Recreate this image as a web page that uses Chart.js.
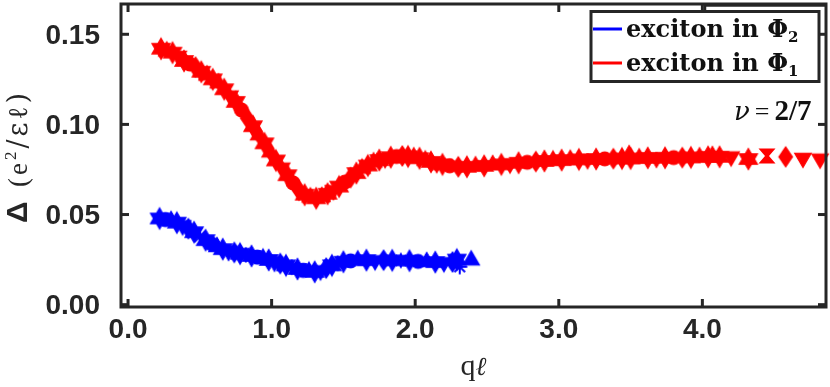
<!DOCTYPE html>
<html><head><meta charset="utf-8">
<script src="https://cdn.jsdelivr.net/npm/chart.js@4/dist/chart.umd.min.js"></script>
<style>html,body{margin:0;padding:0;background:#fff}#wrap{width:830px;height:387px}</style>
</head><body><div id="wrap"><canvas id="c" width="830" height="387"></canvas></div>
<script>
// ---- data ----
const xTicks = [0, 1, 2, 3, 4];
const yTicks = [0, 0.05, 0.10, 0.15];
const seriesNames = ['exciton in Φ', 'exciton in Φ']; // subscripts 2 and 1 drawn below
const seriesSubs = ['2', '1'];
const nuLabel = ['ν', '=', '2/7'];

const redQ = [0.23,0.27,0.31,0.35,0.39,0.43,0.47,0.51,0.55,0.59,0.63,0.67,0.71,0.75,0.79,0.83,0.87,0.91,0.95,0.99,
  1.03,1.07,1.11,1.15,1.19,1.23,1.27,1.31,1.35,1.39,1.43,1.47,1.51,1.55,1.59,1.63,1.67,1.71,1.75,1.79,
  1.83,1.87,1.91,1.95,1.99,2.03,2.07,2.11,2.15,2.19,2.24,2.30,2.36,2.42,2.48,2.54,2.60,2.66,2.72,2.78,
  2.84,2.90,2.96,3.02,3.08,3.14,3.20,3.26,3.32,3.38,3.44,3.49,3.50,3.56,3.62,3.68,3.74,3.80,3.86,3.92,
  3.98,4.04,4.07,4.12,4.20,4.32,4.45,4.58,4.70,4.82];
const redDelta = [0.1420,0.1405,0.1398,0.1380,0.1352,0.1335,0.1318,0.1292,0.1272,0.1250,0.1228,0.1195,0.1160,0.1125,0.1080,0.1035,0.0990,0.0940,0.0895,0.0845,
  0.0800,0.0760,0.0718,0.0675,0.0635,0.0610,0.0595,0.0590,0.0598,0.0615,0.0635,0.0655,0.0680,0.0705,0.0730,0.0755,0.0772,0.0790,0.0802,0.0812,
  0.0818,0.0822,0.0825,0.0822,0.0818,0.0812,0.0800,0.0792,0.0785,0.0778,0.0770,0.0765,0.0765,0.0768,0.0770,0.0775,0.0778,0.0783,0.0787,0.0790,
  0.0794,0.0797,0.0800,0.0802,0.0804,0.0806,0.0807,0.0808,0.0809,0.0810,0.0811,0.0830,0.0811,0.0812,0.0814,0.0814,0.0815,0.0816,0.0816,0.0817,
  0.0818,0.0820,0.0825,0.0820,0.0822,0.0808,0.0825,0.0820,0.0814,0.0810];

const blueQ = [0.22,0.26,0.30,0.34,0.38,0.42,0.46,0.50,0.54,0.58,0.62,0.66,0.70,0.74,0.78,0.82,0.86,0.90,0.94,0.98,
  1.02,1.06,1.10,1.14,1.18,1.22,1.26,1.30,1.34,1.38,1.42,1.46,1.50,1.55,1.60,1.66,1.72,1.78,1.84,1.90,
  1.96,2.02,2.08,2.14,2.20,2.26,2.29,2.31,2.39];
const blueDelta = [0.0478,0.0472,0.0465,0.0455,0.0440,0.0422,0.0402,0.0378,0.0358,0.0338,0.0320,0.0308,0.0298,0.0290,0.0283,0.0276,0.0270,0.0264,0.0256,0.0248,
  0.0238,0.0228,0.0218,0.0208,0.0198,0.0190,0.0183,0.0182,0.0190,0.0203,0.0218,0.0230,0.0238,0.0243,0.0246,0.0247,0.0246,0.0247,0.0246,0.0245,
  0.0244,0.0240,0.0237,0.0236,0.0235,0.0237,0.0250,0.0210,0.0246];

// ---- styles ----
const RED = '#ff0000', BLUE = '#0000ff', AXIS = '#262626';
const AREA = {left: 121, top: 2, right: 828, bottom: 307};
const redCycle = ['hexagram','triangle','hexagram','triangleDown','hexagram','circle','diamond','hexagram','triangle'];
const redEnd = ['hexagram','hourglass','diamond','triangleDown','triangleDown'];
const blueCycle = ['hexagram','circle','triangle','hexagram','triangleDown','diamond','hexagram','asterisk'];
const blueEnd = ['triangle'];

function makeMarker(shape, color) {
  const c = document.createElement('canvas'); c.width = c.height = 28;
  const g = c.getContext('2d'); g.fillStyle = color; g.strokeStyle = color; g.lineWidth = 1.2;
  const cx = 14, cy = 14;
  const tri = (r, down) => { g.beginPath();
    for (let i = 0; i < 3; i++) { const a = (down ? Math.PI/2 : -Math.PI/2) + i*2*Math.PI/3;
      const px = cx + r*Math.cos(a), py = cy + r*Math.sin(a); i ? g.lineTo(px,py) : g.moveTo(px,py); }
    g.closePath(); g.fill(); g.stroke(); };
  switch (shape) {
    case 'hexagram': tri(10.5, false); tri(10.5, true); break;
    case 'triangle': tri(9.5, false); break;
    case 'triangleDown': tri(9.5, true); break;
    case 'circle': g.beginPath(); g.arc(cx, cy, 7.5, 0, 2*Math.PI); g.fill(); break;
    case 'diamond': g.beginPath(); g.moveTo(cx, cy-11); g.lineTo(cx+7.5, cy); g.lineTo(cx, cy+11); g.lineTo(cx-7.5, cy); g.closePath(); g.fill(); break;
    case 'hourglass': g.beginPath(); g.moveTo(cx-8.5, cy-7.5); g.lineTo(cx+8.5, cy-7.5); g.lineTo(cx+2, cy); g.lineTo(cx+8.5, cy+7.5);
      g.lineTo(cx-8.5, cy+7.5); g.lineTo(cx-2, cy); g.closePath(); g.fill(); break;
    case 'asterisk': g.lineWidth = 2; g.beginPath();
      for (let i = 0; i < 4; i++) { const a = i*Math.PI/4; g.moveTo(cx-7.5*Math.cos(a), cy-7.5*Math.sin(a)); g.lineTo(cx+7.5*Math.cos(a), cy+7.5*Math.sin(a)); }
      g.stroke(); break;
  }
  return c;
}
const markerCache = {};
function marker(shape, color) { const k = shape + color; return markerCache[k] || (markerCache[k] = makeMarker(shape, color)); }
function styleFor(i, n, cycle, end, color) {
  const fromEnd = n - 1 - i;
  if (fromEnd < end.length) return marker(end[end.length - 1 - fromEnd], color);
  return marker(cycle[i % cycle.length], color);
}

const redPts = redQ.map((q, i) => ({x: q, y: redDelta[i]}));
const bluePts = blueQ.map((q, i) => ({x: q, y: blueDelta[i]}));

function runs(ctx, list, x, y) {
  let cx = x;
  for (const r of list) { ctx.font = r.font; ctx.fillText(r.t, cx, y + (r.dy || 0)); cx += ctx.measureText(r.t).width + (r.gap || 0); }
  return cx - x;
}

const decor = {
  id: 'decor',
  afterDatasetsDraw(chart) {
    const {ctx, chartArea: a, scales: {x, y}} = chart;
    ctx.save();
    ctx.strokeStyle = AXIS; ctx.lineWidth = 3; ctx.lineCap = 'butt';
    const line = (x1, y1, x2, y2) => { ctx.beginPath(); ctx.moveTo(x1, y1); ctx.lineTo(x2, y2); ctx.stroke(); };
    ctx.strokeRect(a.left, a.top, a.right - a.left, a.bottom - a.top);
    const L = 8;
    xTicks.forEach(v => { const px = x.getPixelForValue(v); line(px, a.bottom, px, a.bottom - L); line(px, a.top, px, a.top + L); });
    yTicks.forEach(v => { const py = y.getPixelForValue(v); line(a.left, py, a.left + L, py); line(a.right, py, a.right - L, py); });
    // small double line at top right
    ctx.lineWidth = 2.5;
    line(705, a.top, 705, 10); line(705, 5.5, a.right, 5.5);

    // legend box
    ctx.fillStyle = '#fff'; ctx.fillRect(591, 11.5, 228, 70);
    ctx.lineWidth = 3; ctx.strokeStyle = AXIS; ctx.strokeRect(591, 11.5, 228, 70);
    ctx.lineWidth = 3;
    ctx.strokeStyle = BLUE; line(593, 29, 622, 29);
    ctx.strokeStyle = RED; line(593, 63, 622, 63);
    ctx.fillStyle = '#111'; ctx.textBaseline = 'alphabetic'; ctx.textAlign = 'left';
    const lf = 'bold 24px "DejaVu Serif"', sf = 'bold 15px "DejaVu Serif"';
    runs(ctx, [{t: seriesNames[0], font: lf}, {t: seriesSubs[0], font: sf, dy: 5}], 626, 37);
    runs(ctx, [{t: seriesNames[1], font: lf}, {t: seriesSubs[1], font: sf, dy: 5}], 626, 71);

    // nu label
    ctx.fillStyle = '#111';
    runs(ctx, [{t: nuLabel[0], font: 'italic 26px "DejaVu Serif"', gap: 5},
               {t: nuLabel[1], font: '26px "Liberation Serif"', gap: 5},
               {t: nuLabel[2], font: 'bold 29px "Liberation Serif"'}], 734, 120);

    // x title
    ctx.fillStyle = AXIS;
    ctx.font = '30px "Liberation Serif"';
    const w1 = ctx.measureText('q').width;
    ctx.font = 'italic 26px "DejaVu Serif"';
    const w2 = ctx.measureText('ℓ').width;
    const cxm = (a.left + a.right) / 2 - (w1 + w2) / 2;
    runs(ctx, [{t: 'q', font: '30px "Liberation Serif"'}, {t: 'ℓ', font: 'italic 26px "DejaVu Serif"'}], cxm, 375);

    // y title (rotated)
    ctx.translate(27, 223); ctx.rotate(-Math.PI / 2);
    ctx.font = 'bold 30px "Liberation Sans"'; ctx.fillText('Δ', 0, 0);
    ctx.letterSpacing = '3px';
    runs(ctx, [{t: '(e', font: '27px "Liberation Serif"'},
               {t: '2', font: '17px "Liberation Serif"', dy: -11},
               {t: '/εℓ)', font: '27px "DejaVu Serif"'}], 36, 0);
    ctx.restore();
  }
};

const zeroPad = s => { s.paddingLeft = 0; s.paddingRight = 0; s.paddingTop = 0; s.paddingBottom = 0; };
const tickFont = {family: '"Liberation Sans", Arial, sans-serif', weight: 'bold', size: 28};
const chart = new Chart(document.getElementById('c'), {
  type: 'scatter',
  data: {datasets: [
    {label: seriesNames[1] + seriesSubs[1], data: redPts, backgroundColor: RED, borderColor: RED,
     pointRadius: 0.5, pointBorderWidth: 0, borderWidth: 0,
     pointStyle: c => styleFor(c.dataIndex, redPts.length, redCycle, redEnd, RED), clip: false},
    {label: seriesNames[0] + seriesSubs[0], data: bluePts, backgroundColor: BLUE, borderColor: BLUE,
     pointRadius: 0.5, pointBorderWidth: 0, borderWidth: 0,
     pointStyle: c => styleFor(c.dataIndex, bluePts.length, blueCycle, blueEnd, BLUE), clip: false}
  ]},
  options: {
    responsive: false, animation: false, devicePixelRatio: 1,
    layout: {padding: {top: AREA.top, right: 830 - AREA.right, left: 0, bottom: 0}},
    plugins: {legend: {display: false}, tooltip: {enabled: false}},
    scales: {
      x: {type: 'linear', min: -0.049, max: 4.861,
        afterBuildTicks: s => { s.ticks = xTicks.map(v => ({value: v})); },
        afterFit: s => { s.height = 387 - AREA.bottom; zeroPad(s); },
        grid: {display: false, drawTicks: false}, border: {display: false},
        ticks: {font: tickFont, color: AXIS, padding: 6, maxRotation: 0, autoSkip: false, callback: v => Number(v).toFixed(1)}},
      y: {type: 'linear', min: -0.0013, max: 0.1668,
        afterBuildTicks: s => { s.ticks = yTicks.map(v => ({value: v})); },
        afterFit: s => { s.width = AREA.left; zeroPad(s); },
        grid: {display: false, drawTicks: false}, border: {display: false},
        ticks: {font: tickFont, color: AXIS, padding: 21, labelOffset: 2, autoSkip: false, callback: v => Number(v).toFixed(2)}}
    }
  },
  plugins: [decor]
});
</script></body></html>
